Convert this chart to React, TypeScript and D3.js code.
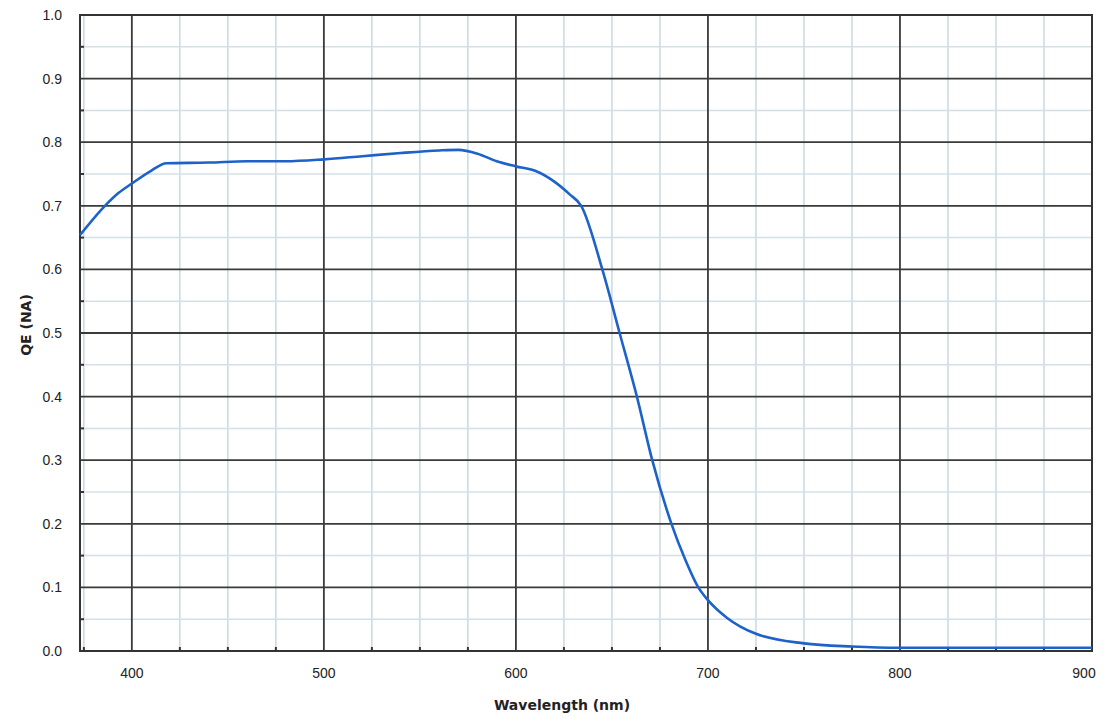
import * as React from 'react'
import * as d3 from 'd3'

// wavelength (nm) and QE
const wavelengths = [373, 386, 393, 400, 410, 418, 440, 460, 480, 500, 520, 540, 560, 570, 580, 590, 600, 610, 620, 628, 634, 645, 654, 663, 671, 681, 688, 695, 700, 710, 725, 750, 775, 800, 850, 900]
const qe = [0.654, 0.70, 0.72, 0.735, 0.755, 0.767, 0.768, 0.770, 0.770, 0.773, 0.778, 0.783, 0.787, 0.788, 0.782, 0.770, 0.762, 0.755, 0.738, 0.718, 0.70, 0.60, 0.50, 0.40, 0.30, 0.20, 0.145, 0.10, 0.080, 0.052, 0.027, 0.012, 0.007, 0.005, 0.005, 0.005]

const xTicks = [400, 500, 600, 700, 800, 900]
const yTicks = [0, 0.1, 0.2, 0.3, 0.4, 0.5, 0.6, 0.7, 0.8, 0.9, 1.0]

export default function App() {
  const ref = React.useRef<SVGSVGElement>(null)

  React.useEffect(() => {
    const svg = d3.select(ref.current)
    svg.selectAll('*').remove()

    const margin = { top: 15, right: 17, bottom: 67, left: 80 }
    const width = 1109 - margin.left - margin.right
    const height = 718 - margin.top - margin.bottom

    const x = d3.scaleLinear().domain([373, 900]).range([0, width])
    const y = d3.scaleLinear().domain([0, 1]).range([height, 0])

    const g = svg.append('g')
      .attr('transform', `translate(${margin.left}, ${margin.top})`)

    // light grid every 25 nm / 0.05
    const minorX = d3.range(375, 901, 25).filter(v => v % 100 !== 0)
    const minorY = d3.range(0.05, 1, 0.1)

    g.selectAll('.minor-x').data(minorX).enter().append('line')
      .attr('x1', d => x(d)).attr('x2', d => x(d))
      .attr('y1', 0).attr('y2', height)
      .attr('stroke', '#c9d9e2').attr('stroke-width', 1.5)

    g.selectAll('.minor-y').data(minorY).enter().append('line')
      .attr('x1', 0).attr('x2', width)
      .attr('y1', d => y(d)).attr('y2', d => y(d))
      .attr('stroke', '#d4e0e6').attr('stroke-width', 1.5)

    // dark grid
    g.selectAll('.major-x').data(xTicks).enter().append('line')
      .attr('x1', d => x(d)).attr('x2', d => x(d))
      .attr('y1', 0).attr('y2', height)
      .attr('stroke', '#3a3a3a').attr('stroke-width', 1.8)

    g.selectAll('.major-y').data(yTicks).enter().append('line')
      .attr('x1', 0).attr('x2', width)
      .attr('y1', d => y(d)).attr('y2', d => y(d))
      .attr('stroke', '#3a3a3a').attr('stroke-width', 1.8)

    g.append('rect')
      .attr('width', width).attr('height', height)
      .attr('fill', 'none')
      .attr('stroke', '#333').attr('stroke-width', 2)

    // small ticks on the axes
    g.selectAll('.tick-y').data(minorY).enter().append('line')
      .attr('x1', 0).attr('x2', 4)
      .attr('y1', d => y(d)).attr('y2', d => y(d))
      .attr('stroke', '#333').attr('stroke-width', 2)

    g.selectAll('.tick-x').data(minorX).enter().append('line')
      .attr('x1', d => x(d)).attr('x2', d => x(d))
      .attr('y1', height).attr('y2', height - 4)
      .attr('stroke', '#333').attr('stroke-width', 2)

    // labels
    g.selectAll('.ylab').data(yTicks).enter().append('text')
      .attr('x', -18).attr('y', d => y(d) + 5)
      .attr('text-anchor', 'end')
      .attr('font-family', 'Liberation Sans, Arial, sans-serif')
      .attr('font-size', 14).attr('fill', '#222')
      .text(d => d.toFixed(1))

    g.selectAll('.xlab').data(xTicks).enter().append('text')
      .attr('x', d => x(d) + (d === 900 ? -8 : 0)).attr('y', height + 27)
      .attr('text-anchor', 'middle')
      .attr('font-family', 'Liberation Sans, Arial, sans-serif')
      .attr('font-size', 14).attr('fill', '#222')
      .text(d => d)

    g.append('text')
      .attr('x', x(624)).attr('y', height + 59)
      .attr('text-anchor', 'middle')
      .attr('font-family', 'DejaVu Sans, Verdana, sans-serif')
      .attr('font-weight', 'bold')
      .attr('font-size', 14).attr('fill', '#222')
      .text('Wavelength (nm)')

    g.append('text')
      .attr('transform', `translate(${-49}, ${y(0.5) - 8}) rotate(-90)`)
      .attr('text-anchor', 'middle')
      .attr('font-family', 'DejaVu Sans, Verdana, sans-serif')
      .attr('font-weight', 'bold')
      .attr('font-size', 14).attr('fill', '#222')
      .text('QE (NA)')

    const pts: [number, number][] = wavelengths.map((w, i) => [w, qe[i]])
    const line = d3.line<[number, number]>()
      .x(d => x(d[0]))
      .y(d => y(d[1]))
      .curve(d3.curveMonotoneX)

    g.append('path')
      .datum(pts)
      .attr('d', line)
      .attr('fill', 'none')
      .attr('stroke', '#1c62c9')
      .attr('stroke-width', 2.6)
  }, [])

  return (
    <svg ref={ref} width={1109} height={718}
      style={{ position: 'absolute', left: 0, top: 0, background: '#fff' }} />
  )
}
